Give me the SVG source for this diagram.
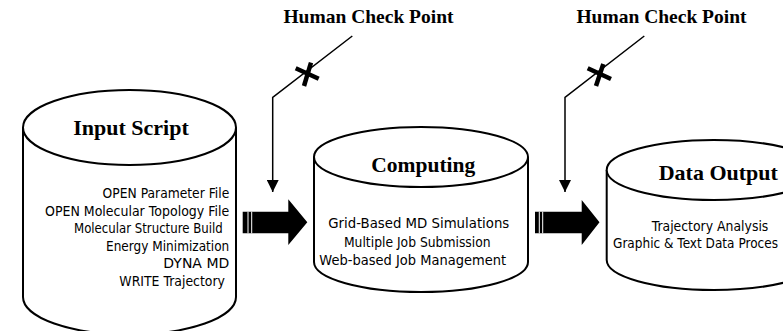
<svg xmlns="http://www.w3.org/2000/svg" width="783" height="331" viewBox="0 0 783 331">
  <style>
    .cyl { fill: #ffffff; stroke: #000000; stroke-width: 2; }
    .title { font-family: "Liberation Serif", "Times New Roman", serif; font-weight: bold; fill: #000000; text-anchor: middle; }
    .item { font-family: "DejaVu Sans", Tahoma, sans-serif; font-size: 14px; fill: #000000; }
    .check { font-family: "Liberation Serif", "Times New Roman", serif; font-weight: bold; font-size: 19.5px; fill: #000000; text-anchor: middle; }
    .wire { fill: none; stroke: #000000; stroke-width: 1.5; }
    .cross { fill: none; stroke: #000000; stroke-width: 4.5; stroke-linecap: butt; }
    .stripe { stroke: #ffffff; stroke-width: 1; }
  </style>
  <defs>
    <marker id="tip" viewBox="0 0 12 12" refX="12" refY="6" markerWidth="12" markerHeight="12" markerUnits="userSpaceOnUse" orient="auto">
      <path d="M0,0 L12,6 L0,12 Z" fill="#000000"/>
    </marker>
  </defs>

  <rect width="783" height="331" fill="#ffffff"/>

  <!-- Input Script store -->
  <g id="input-script">
    <path class="cyl" d="M23,127.5 V297 A106.5,37.5 0 0 0 236,297 V127.5"/>
    <ellipse class="cyl" cx="129.5" cy="127.5" rx="106.5" ry="37.5"/>
    <text class="title" x="131" y="135" font-size="22">Input Script</text>
    <text class="item" x="229.3" y="198" text-anchor="end" textLength="126.7" lengthAdjust="spacingAndGlyphs">OPEN Parameter File</text>
    <text class="item" x="229.3" y="215.6" text-anchor="end" textLength="184.3" lengthAdjust="spacingAndGlyphs">OPEN Molecular Topology File</text>
    <text class="item" x="222.7" y="233.2" text-anchor="end" textLength="148.7" lengthAdjust="spacingAndGlyphs">Molecular Structure Build</text>
    <text class="item" x="229.3" y="250.8" text-anchor="end" textLength="123.3" lengthAdjust="spacingAndGlyphs">Energy Minimization</text>
    <text class="item" x="229.3" y="268.4" text-anchor="end" textLength="66" lengthAdjust="spacingAndGlyphs">DYNA MD</text>
    <text class="item" x="225" y="286" text-anchor="end" textLength="105.7" lengthAdjust="spacingAndGlyphs">WRITE Trajectory</text>
  </g>

  <!-- Computing store -->
  <g id="computing">
    <path class="cyl" d="M314,157 V262 A107,30 0 0 0 528,262 V157"/>
    <ellipse class="cyl" cx="421" cy="157" rx="107" ry="30"/>
    <text class="title" x="423.3" y="171.7" font-size="21.5">Computing</text>
    <text class="item" x="418.8" y="228.3" text-anchor="middle" textLength="181" lengthAdjust="spacingAndGlyphs">Grid-Based MD Simulations</text>
    <text class="item" x="417.3" y="246.7" text-anchor="middle" textLength="146.7" lengthAdjust="spacingAndGlyphs">Multiple Job Submission</text>
    <text class="item" x="412.7" y="265" text-anchor="middle" textLength="186.7" lengthAdjust="spacingAndGlyphs">Web-based Job Management</text>
  </g>

  <!-- Data Output store -->
  <g id="data-output">
    <path class="cyl" d="M606.7,170 V260 A107,30 0 0 0 820.7,260 V170"/>
    <ellipse class="cyl" cx="713.7" cy="170" rx="107" ry="30"/>
    <text class="title" x="718.3" y="180" font-size="22">Data Output</text>
    <text class="item" x="710" y="231" text-anchor="middle" textLength="116.7" lengthAdjust="spacingAndGlyphs">Trajectory Analysis</text>
    <text class="item" x="613" y="248" textLength="165" lengthAdjust="spacingAndGlyphs">Graphic &amp; Text Data Proces</text>
  </g>

  <!-- Human check points -->
  <g id="check-1">
    <text class="check" x="368.5" y="23">Human Check Point</text>
  </g>
  <g id="check-2">
    <text class="check" x="661.5" y="23">Human Check Point</text>
  </g>

  <!-- Connectors -->
  <g id="connectors">
    <!-- flow arrows between stores -->
    <g id="flow-1">
      <path d="M242.7,211.7 H288.3 V199.3 L307.3,222.3 L288.3,245 V233.3 H242.7 Z" fill="#000000"/>
      <line class="stripe" x1="248" y1="211.7" x2="248" y2="233.3"/>
      <line class="stripe" x1="251.7" y1="211.7" x2="251.7" y2="233.3"/>
    </g>
    <g id="flow-2">
      <path d="M535,211.7 H581.7 V200 L599.5,222.3 L581.7,245 V233.3 H535 Z" fill="#000000"/>
      <line class="stripe" x1="539.3" y1="211.7" x2="539.3" y2="233.3"/>
      <line class="stripe" x1="542.7" y1="211.7" x2="542.7" y2="233.3"/>
    </g>

    <!-- check-point feeds -->
    <polyline class="wire" points="352.3,36 272.7,97.3 272.7,192" marker-end="url(#tip)"/>
    <line class="cross" x1="295.7" y1="68.3" x2="318.7" y2="78.7"/>
    <line class="cross" x1="311" y1="62.7" x2="304" y2="86"/>

    <polyline class="wire" points="644.3,36 565,97.3 565,192" marker-end="url(#tip)"/>
    <line class="cross" x1="587.7" y1="68.3" x2="611" y2="79"/>
    <line class="cross" x1="603.3" y1="64" x2="596" y2="86"/>
  </g>
</svg>
